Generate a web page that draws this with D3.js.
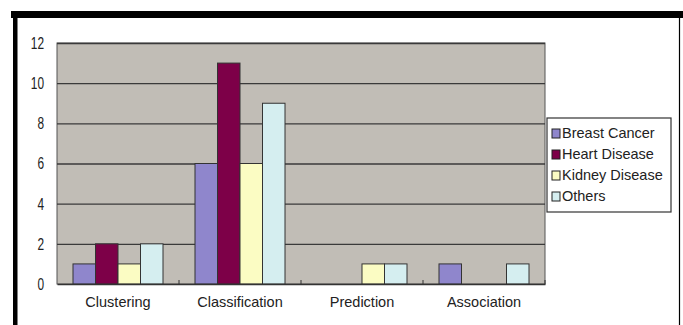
<!DOCTYPE html>
<html>
<head>
<meta charset="utf-8">
<script src="https://cdn.jsdelivr.net/npm/d3@7"></script>
<style>
  html, body { margin: 0; padding: 0; background: #fff; }
  svg { display: block; }
  text { font-family: "Liberation Sans", Arial, sans-serif; fill: #222; }
</style>
</head>
<body>
<svg id="chart" width="683" height="325"></svg>
<script>
// Task categories on the x axis
const categories = ["Clustering", "Classification", "Prediction", "Association"];
// Disease series
const seriesNames = ["Breast Cancer", "Heart Disease", "Kidney Disease", "Others"];
const seriesColors = ["#8f86cc", "#7d0048", "#fbfcc3", "#d5eef0"];
// Counts per category, one array per series
const breastCancer = [1, 6, 0, 1];
const heartDisease = [2, 11, 0, 0];
const kidneyDisease = [1, 6, 1, 0];
const others = [2, 9, 1, 1];
const yTicks = [0, 2, 4, 6, 8, 10, 12];

const seriesValues = [breastCancer, heartDisease, kidneyDisease, others];

const svg = d3.select("#chart");
const plot = { left: 57, top: 43, right: 545, bottom: 284 };

// Outer frame
svg.append("rect").attr("x", 11).attr("y", 11).attr("width", 672).attr("height", 7).attr("fill", "#000");
svg.append("rect").attr("x", 13).attr("y", 11).attr("width", 4.5).attr("height", 314).attr("fill", "#000");
svg.append("line").attr("x1", 679.5).attr("x2", 679.5).attr("y1", 11).attr("y2", 325)
  .attr("stroke", "#000").attr("stroke-width", 1.2);

const x0 = d3.scaleBand().domain(categories).range([plot.left, plot.right]).paddingInner(0).paddingOuter(0);
const x1 = d3.scaleBand().domain(d3.range(seriesNames.length)).range([16, x0.bandwidth() - 16]);
const y = d3.scaleLinear().domain([0, 12]).range([plot.bottom, plot.top]);

// Plot background
svg.append("rect")
  .attr("x", plot.left).attr("y", plot.top)
  .attr("width", plot.right - plot.left).attr("height", plot.bottom - plot.top)
  .attr("fill", "#c1bdb6").attr("stroke", "#555").attr("stroke-width", 1);

// Gridlines
svg.append("g").selectAll("line").data(yTicks.filter(d => d > 0)).join("line")
  .attr("x1", plot.left).attr("x2", plot.right)
  .attr("y1", d => y(d) + 0.5).attr("y2", d => y(d) + 0.5)
  .attr("stroke", "#3a3a3a").attr("stroke-width", 1.3);

// Y axis labels (tall, condensed digits)
const yScaleX = 0.7;
const yAxis = d3.axisLeft(y).tickValues(yTicks).tickSize(0).tickPadding(13).tickFormat(d3.format("d"));
const gy = svg.append("g").attr("transform", `translate(${plot.left},0)`).call(yAxis);
gy.select(".domain").remove();
gy.selectAll("text")
  .attr("x", -13 / yScaleX)
  .attr("transform", `scale(${yScaleX},1)`)
  .style("font-size", "17px").attr("fill", "#222");

// Bars
const groups = svg.append("g").selectAll("g").data(categories).join("g")
  .attr("transform", d => `translate(${x0(d)},0)`);
groups.selectAll("rect")
  .data((c, ci) => seriesValues.map((vals, si) => ({ si, v: vals[ci] })).filter(d => d.v > 0))
  .join("rect")
  .attr("x", d => x1(d.si))
  .attr("y", d => y(d.v))
  .attr("width", x1.bandwidth())
  .attr("height", d => y(0) - y(d.v))
  .attr("fill", d => seriesColors[d.si])
  .attr("stroke", "#333").attr("stroke-width", 1);

// X axis
const xAxis = d3.axisBottom(x0).tickSize(0).tickPadding(13);
const gx = svg.append("g").attr("transform", `translate(0,${plot.bottom})`).call(xAxis);
gx.select(".domain").attr("stroke", "#333").attr("stroke-width", 1.5);
gx.selectAll("text").style("font-size", "14.5px").style("font-family", "'Liberation Sans', Arial, sans-serif").attr("fill", "#222");
// category separators
svg.append("g").selectAll("line").data(categories.slice(1).concat(["end"])).join("line")
  .attr("x1", (d, i) => plot.left + x0.bandwidth() * (i + 1))
  .attr("x2", (d, i) => plot.left + x0.bandwidth() * (i + 1))
  .attr("y1", plot.bottom).attr("y2", plot.bottom - 4)
  .attr("stroke", "#333").attr("stroke-width", 1);

// Legend
const legend = svg.append("g").attr("transform", "translate(547,118)");
legend.append("rect").attr("width", 124).attr("height", 94)
  .attr("fill", "#fff").attr("stroke", "#333").attr("stroke-width", 1.2);
const items = legend.selectAll("g").data(seriesNames).join("g")
  .attr("transform", (d, i) => `translate(5,${15 + i * 21})`);
items.append("rect").attr("x", 0).attr("y", -4).attr("width", 8).attr("height", 9)
  .attr("fill", (d, i) => seriesColors[i]).attr("stroke", "#222").attr("stroke-width", 1);
items.append("text").attr("x", 10).attr("y", 0).attr("dy", "0.35em")
  .style("font-size", "14.5px").text(d => d);
</script>
</body>
</html>
